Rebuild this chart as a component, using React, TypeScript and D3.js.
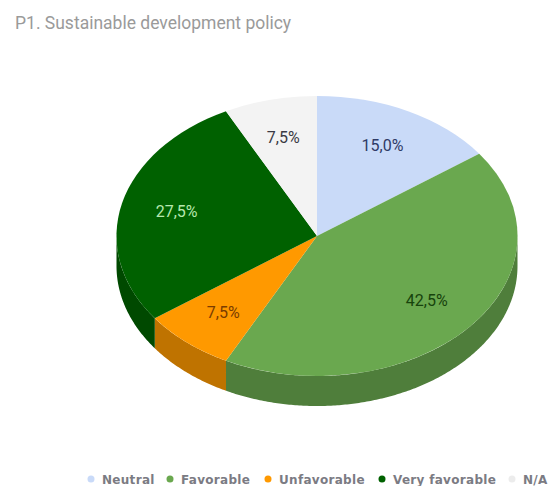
import * as d3 from "d3";

const categories = ["Neutral", "Favorable", "Unfavorable", "Very favorable", "N/A"];
const shares = [15.0, 42.5, 7.5, 27.5, 7.5];
const topColors = ["#c9daf8", "#6aa84f", "#ff9900", "#006100", "#f3f3f3"];
const wallColors = ["#a1aec6", "#4f7e3b", "#bf7300", "#004900", "#b6b6b6"];
const labelColors = ["#2f3a66", "#17430c", "#7a3c00", "#b6e8ae", "#3a3a44"];
const legendX = [91, 170, 268, 382, 512];

const WIDTH = 549;
const HEIGHT = 486;
const CX = 317;
const CY = 236;
const RX = 200.5;
const RY = 140;
const DEPTH = 30;
const LABEL_RADIUS = 0.72;

const pie = d3.pie<number>().sort(null).value((d) => d);
const slices = pie(shares);
const arc = d3.arc<d3.PieArcDatum<number>>().innerRadius(0).outerRadius(1);

const squash = d3.scaleLinear().domain([-1, 1]);
const xOf = squash.copy().range([CX - RX, CX + RX]);
const yOf = squash.copy().range([CY - RY, CY + RY]);

// Side wall of a slice: only the part of its rim facing the viewer (90° to 270°).
function wallPath(start: number, end: number): string | null {
  const a0 = Math.max(start, Math.PI / 2);
  const a1 = Math.min(end, (3 * Math.PI) / 2);
  if (a1 <= a0) return null;
  const angles = d3.range(a0, a1, 0.01).concat(a1);
  const rim: [number, number][] = angles.map((a) => [xOf(Math.sin(a)), yOf(-Math.cos(a))]);
  const area = d3
    .area<[number, number]>()
    .x((p) => p[0])
    .y0((p) => p[1])
    .y1((p) => p[1] + DEPTH);
  return area(rim);
}

export default function App() {
  return (
    <svg
      width={WIDTH}
      height={HEIGHT}
      viewBox={`0 0 ${WIDTH} ${HEIGHT}`}
      style={{ position: "fixed", left: 0, top: 0, background: "#fff" }}
      fontFamily="Roboto, sans-serif"
    >
      <text x={15} y={29} fontSize={17.5} fill="#9a9a9a">
        P1. Sustainable development policy
      </text>

      {slices.map((s, i) => {
        const d = wallPath(s.startAngle, s.endAngle);
        return d ? <path key={categories[i]} d={d} fill={wallColors[i]} /> : null;
      })}

      <g transform={`translate(${CX},${CY}) scale(${RX},${RY})`}>
        {slices.map((s, i) => (
          <path key={categories[i]} d={arc(s) ?? ""} fill={topColors[i]} />
        ))}
      </g>

      {slices.map((s, i) => {
        const mid = (s.startAngle + s.endAngle) / 2;
        return (
          <text
            key={categories[i]}
            x={CX + RX * LABEL_RADIUS * Math.sin(mid)}
            y={CY - RY * LABEL_RADIUS * Math.cos(mid) + 5}
            textAnchor="middle"
            fontSize={16}
            fill={labelColors[i]}
          >
            {`${shares[i].toFixed(1).replace(".", ",")}%`}
          </text>
        );
      })}

      {categories.map((c, i) => (
        <g key={c}>
          <circle cx={legendX[i]} cy={479} r={3.5} fill={i === 4 ? "#ececec" : topColors[i]} />
          <text
            x={legendX[i] + 11}
            y={483.5}
            fontFamily="'DejaVu Sans', sans-serif"
            fontSize={12}
            fontWeight={700}
            letterSpacing={0.3}
            fill="#7b7b83"
          >
            {c}
          </text>
        </g>
      ))}
    </svg>
  );
}
